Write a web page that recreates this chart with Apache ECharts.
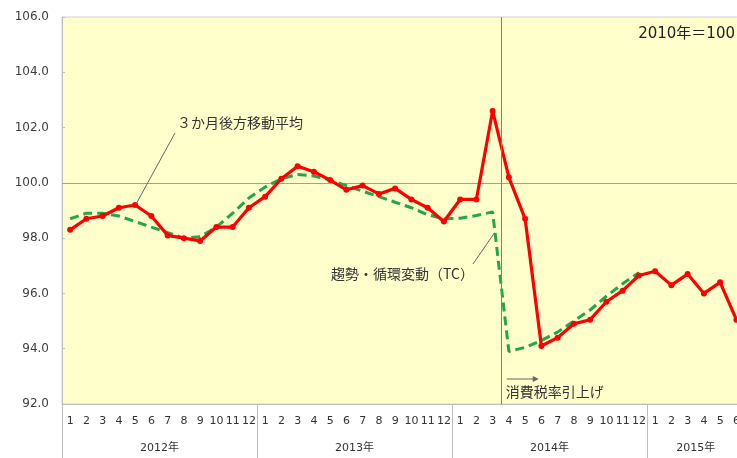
<!DOCTYPE html>
<html>
<head>
<meta charset="utf-8">
<script src="https://cdn.jsdelivr.net/npm/echarts@6/dist/echarts.min.js"></script>
<style>
html,body{margin:0;padding:0;background:#fff;}
#chart{width:737px;height:458px;}
</style>
</head>
<body>
<div id="chart"></div>
<script>
// ---- data ----
var yearLabels = ['2012年', '2013年', '2014年', '2015年'];
var monthsPerYear = [12, 12, 12, 6];
var monthLabels = ['1','2','3','4','5','6','7','8','9','10','11','12'];
// 3か月後方移動平均 (red)
var movingAvg = [
  98.3, 98.7, 98.8, 99.1, 99.2, 98.8, 98.1, 98.0, 97.9, 98.4, 98.4, 99.1,
  99.5, 100.15, 100.6, 100.4, 100.1, 99.75, 99.9, 99.6, 99.8, 99.4, 99.1, 98.6,
  99.4, 99.4, 102.6, 100.2, 98.7, 94.1, 94.4, 94.9, 95.05, 95.7, 96.1, 96.65,
  96.8, 96.3, 96.7, 96.0, 96.4, 95.05
];
// 趨勢・循環変動 (TC) (green dashed)
var trendCycle = [
  98.7, 98.9, 98.9, 98.8, 98.6, 98.4, 98.2, 98.0, 98.05, 98.4, 98.9, 99.45,
  99.85, 100.15, 100.3, 100.25, 100.1, 99.9, 99.7, 99.5, 99.3, 99.1, 98.85, 98.7,
  98.72, 98.82, 98.95, 93.9, 94.05, 94.3, 94.6, 95.0, 95.4, 95.9, 96.35, 96.75,
  null, null, null, null, null, null
];
var yTicks = { min: 92, max: 106, step: 2 };
var refLevel = 100;          // 2010年=100
var taxHikeMonthIndex = 27;  // 2014年4月 (boundary before it)

// ---- derived axis data ----
var monthCats = [];
yearLabels.forEach(function (y, yi) {
  for (var m = 0; m < monthsPerYear[yi]; m++) monthCats.push(monthLabels[m]);
});
// half-month boundary axis (for year bands)
var nHalf = monthCats.length * 2;
var halfCats = [];
var yearTickIdx = {}, yearLabelIdx = {};
var acc = 0;
yearLabels.forEach(function (y, yi) {
  yearTickIdx[acc * 2] = true;
  yearLabelIdx[acc * 2 + monthsPerYear[yi]] = y;
  acc += monthsPerYear[yi];
});
yearTickIdx[acc * 2] = true;
for (var i = 0; i <= nHalf; i++) halfCats.push(yearLabelIdx[i] || '');

var chart = echarts.init(document.getElementById('chart'), null, { renderer: 'canvas' });
var axisGray = '#BFBFBF';
var cjk = '"Noto Sans CJK JP", "Noto Sans", sans-serif';
var num = '"DejaVu Sans", "Noto Sans CJK JP", sans-serif';

chart.setOption({
  animation: false,
  backgroundColor: '#ffffff',
  grid: {
    left: 62, top: 17, width: 682.5, height: 387,
    outerBoundsMode: 'none', containLabel: false,
    show: true, backgroundColor: '#FFFFCC', borderColor: '#D0D0D0', borderWidth: 1
  },
  xAxis: [
    {
      type: 'category', data: monthCats, boundaryGap: true,
      axisLine: { show: true, lineStyle: { color: axisGray, width: 1 } },
      axisTick: { show: false },
      axisLabel: { interval: 0, margin: 12, fontSize: 11, color: '#333', fontFamily: num }
    },
    {
      type: 'category', data: halfCats, boundaryGap: false, position: 'bottom',
      axisLine: { show: false },
      axisTick: {
        show: true, length: 70, lineStyle: { color: axisGray, width: 1 },
        interval: function (idx) { return !!yearTickIdx[idx]; }
      },
      axisLabel: {
        margin: 39, fontSize: 11, color: '#333', fontFamily: num,
        interval: function (idx, val) { return val !== ''; }
      }
    }
  ],
  yAxis: {
    type: 'value', min: yTicks.min, max: yTicks.max, interval: yTicks.step,
    axisLine: { show: true, lineStyle: { color: axisGray, width: 1 } },
    axisTick: { show: true, inside: true, length: 3, lineStyle: { color: axisGray } },
    splitLine: { show: false },
    axisLabel: {
      margin: 13, fontSize: 12, color: '#404040', fontFamily: num,
      formatter: function (v) { return v.toFixed(1); }
    }
  },
  series: [
    {
      name: 'boundary', type: 'line', xAxisIndex: 1, yAxisIndex: 0, data: [],
      silent: true,
      markLine: {
        silent: true, symbol: ['none', 'none'], label: { show: false },
        lineStyle: { color: '#808080', type: 'solid', width: 1 },
        data: [{ xAxis: taxHikeMonthIndex * 2 }]
      }
    },
    {
      name: '趨勢・循環変動（TC）', type: 'line', data: trendCycle,
      showSymbol: false, symbol: 'none', connectNulls: false,
      lineStyle: { color: '#22A648', width: 3, type: [9, 5] },
      z: 3
    },
    {
      name: '３か月後方移動平均', type: 'line', data: movingAvg,
      symbol: 'circle', symbolSize: 6,
      itemStyle: { color: '#FF0000' },
      lineStyle: { color: '#FF0000', width: 3.2 },
      z: 4,
      markLine: {
        silent: true, symbol: ['none', 'none'], label: { show: false },
        lineStyle: { color: '#A0A0A0', type: 'solid', width: 1 },
        data: [{ yAxis: refLevel }], z: 1
      }
    }
  ]
});

// ---- annotations anchored to data coordinates ----
function px(ci, v) { return chart.convertToPixel({ xAxisIndex: 0, yAxisIndex: 0 }, [ci, v]); }
var pRed = px(4, movingAvg[4]);
var pTC = px(26, 98.2);
var pTax = chart.convertToPixel({ xAxisIndex: 1, yAxisIndex: 0 }, [taxHikeMonthIndex * 2, 93.0]);

chart.setOption({
  graphic: [
    { type: 'line', shape: { x1: pRed[0] + 1, y1: pRed[1] - 1, x2: 175, y2: 133 },
      style: { stroke: '#666', lineWidth: 1 }, z: 100 },
    { type: 'text', left: 177, top: 116,
      style: { text: '３か月後方移動平均', font: '14px ' + cjk, fill: '#333' }, z: 100 },
    { type: 'line', shape: { x1: pTC[0] + 2, y1: pTC[1], x2: 473, y2: 264 },
      style: { stroke: '#666', lineWidth: 1 }, z: 100 },
    { type: 'text', left: 331, top: 267,
      style: { text: '趨勢・循環変動（TC）', font: '14px ' + cjk, fill: '#333' }, z: 100 },
    { type: 'text', right: 2, top: 27,
      style: { text: '2010年＝100', font: '15px ' + num, fill: '#222' }, z: 100 },
    { type: 'line', shape: { x1: pTax[0] + 6, y1: 379, x2: pTax[0] + 34, y2: 379 },
      style: { stroke: '#666', lineWidth: 1 }, z: 100 },
    { type: 'polygon', shape: { points: [[pTax[0] + 38, 379], [pTax[0] + 32, 376], [pTax[0] + 32, 382]] },
      style: { fill: '#666' }, z: 100 },
    { type: 'text', left: pTax[0] + 5, top: 385,
      style: { text: '消費税率引上げ', font: '14px ' + cjk, fill: '#333' }, z: 100 }
  ]
});
</script>
</body>
</html>
